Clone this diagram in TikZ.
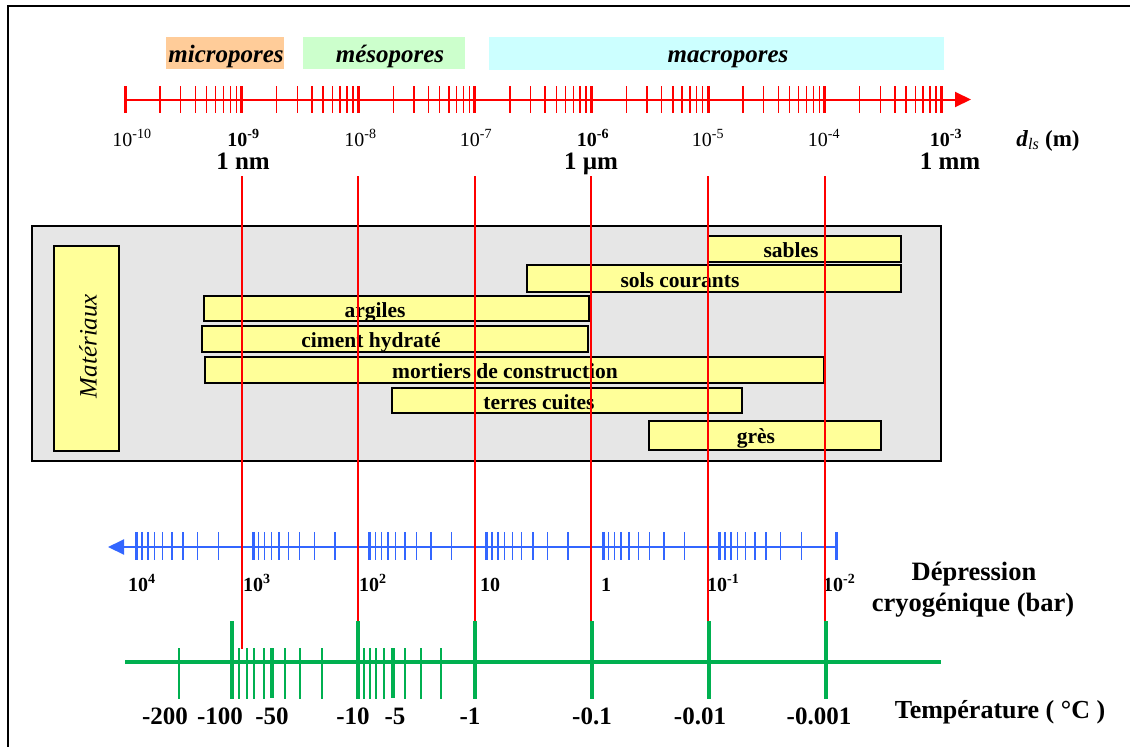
\documentclass[tikz,border=0pt]{standalone}
\usepackage{fontspec}
\setmainfont{Liberation Serif}
\usetikzlibrary{arrows.meta}
\definecolor{myred}{RGB}{255,0,0}
\definecolor{myblue}{RGB}{51,102,255}
\definecolor{mygreen}{RGB}{0,176,80}
\definecolor{panelgray}{RGB}{230,230,230}
\definecolor{baryellow}{RGB}{255,255,153}
\definecolor{orangebox}{RGB}{255,204,153}
\definecolor{greenbox}{RGB}{204,255,204}
\definecolor{cyanbox}{RGB}{204,255,255}
\newcommand{\myfs}[1]{\fontsize{#1}{#1}\selectfont}
\begin{document}
\begin{tikzpicture}[x=1pt,y=-1pt,
  porebox/.style={inner sep=0pt, outer sep=0pt, draw=none},
  poretext/.style={font={\myfs{25}\bfseries\itshape}, inner sep=0pt, anchor=base},
  redaxis/.style={draw=myred, line width=2pt},
  redminor/.style={draw=myred, line width=1.4pt},
  redmajor/.style={draw=myred, line width=3pt},
  redline/.style={draw=myred, line width=2pt},
  toplabel/.style={font={\myfs{20}}, inner sep=0pt, anchor=base},
  toplabelb/.style={font={\myfs{20}\bfseries}, inner sep=0pt, anchor=base},
  unitlabel/.style={font={\myfs{25}\bfseries}, inner sep=0pt, anchor=base},
  graypanel/.style={draw=black, line width=2pt, fill=panelgray, inner sep=0pt},
  matbar/.style={draw=black, line width=2pt, fill=baryellow, inner sep=0pt},
  bartext/.style={font={\myfs{21.5}\bfseries}, inner sep=0pt, anchor=base},
  blueaxis/.style={draw=myblue, line width=2pt},
  blueminor/.style={draw=myblue, line width=1.4pt},
  bluemajor/.style={draw=myblue, line width=3pt},
  bluelabel/.style={font={\myfs{20}\bfseries}, inner sep=0pt, anchor=base west},
  sidetitle/.style={font={\myfs{26.5}\bfseries}, inner sep=0pt, anchor=base},
  greenaxis/.style={draw=mygreen, line width=4pt},
  greenmajor/.style={draw=mygreen, line width=4pt},
  greenminor/.style={draw=mygreen, line width=2pt},
  greenlabel/.style={font={\myfs{25}\bfseries}, inner sep=0pt, anchor=base}
]
\useasboundingbox (0,0) rectangle (1130,747);
% frame (cropped)
\coordinate (fA) at (8,747);
\coordinate (fB) at (8,6);
\coordinate (fC) at (1130,6);
\draw[line width=2pt] (fA) -- (fB) -- (fC);

% pore classes
\node[porebox, fill=orangebox, minimum width=118pt, minimum height=32pt] (micro) at (225,53) {};
\node[porebox, fill=greenbox, minimum width=162pt, minimum height=32pt] (meso) at (384,53) {};
\node[porebox, fill=cyanbox, minimum width=455pt, minimum height=33pt] (macro) at (716.5,53) {};
\node[poretext] (microt) at (226,62) {micropores};
\node[poretext] (mesot) at (390,62) {mésopores};
\node[poretext] (macrot) at (728,62) {macropores};

% red axis
\coordinate (raS) at (125,99.5);
\coordinate (raE) at (971,99.5);
\draw[redaxis, -{Triangle[length=16pt,width=15pt]}] (raS) -- (raE);
\foreach \d in {0,...,6} {
  \foreach \m in {2,...,9} {
    \draw[redminor] ({125+116.6*\d+116.6*log10(\m)},86) -- ++(0,27);
  }
}
\foreach \d in {0,...,7} {
  \draw[redmajor] ({125+116.6*\d},86) -- ++(0,27);
}
\node[toplabel]  (e10) at (132,146) {10\textsuperscript{-10}};
\node[toplabelb] (e9) at (243.5,146) {10\textsuperscript{-9}};
\node[toplabel]  (e8) at (360.5,146) {10\textsuperscript{-8}};
\node[toplabel]  (e7) at (476,146) {10\textsuperscript{-7}};
\node[toplabelb] (e6) at (593,146) {10\textsuperscript{-6}};
\node[toplabel]  (e5) at (708,146) {10\textsuperscript{-5}};
\node[toplabel]  (e4) at (824,146) {10\textsuperscript{-4}};
\node[toplabelb] (e3) at (946,146) {10\textsuperscript{-3}};
\node[unitlabel] (nm) at (243,169) {1 nm};
\node[unitlabel] (um) at (591,169) {1 µm};
\node[unitlabel] (mm) at (950,169) {1 mm};
\node[font={\myfs{23}}, inner sep=0pt, anchor=base] (dls) at (1048,146)
  {\textbf{\textit{d}}\textsubscript{\textit{ls}}\textbf{ (m)}};

% materials panel
\node[graypanel, minimum width=909pt, minimum height=235pt] (panel) at (486.5,343.5) {};
\node[matbar, minimum width=65pt, minimum height=205pt] (mat) at (86.5,348.5) {};
\node[font={\myfs{25}\itshape}, rotate=90, inner sep=0pt] (matt) at (88,346) {Matériaux};

\node[matbar, minimum width=193pt, minimum height=26pt] (sables) at (804.5,249) {};
\node[matbar, minimum width=374pt, minimum height=27pt] (sols) at (714,278.5) {};
\node[matbar, minimum width=385pt, minimum height=25pt] (argiles) at (396.5,308.5) {};
\node[matbar, minimum width=386pt, minimum height=26pt] (ciment) at (395,339) {};
\node[matbar, minimum width=619pt, minimum height=26pt] (mortiers) at (514.5,370) {};
\node[matbar, minimum width=350pt, minimum height=25pt] (terres) at (567,400.5) {};
\node[matbar, minimum width=232pt, minimum height=29pt] (gres) at (765,435.5) {};
\node[bartext] (sablest) at (791,257) {sables};
\node[bartext] (solst) at (680,287.5) {sols courants};
\node[bartext] (argilest) at (375,317) {argiles};
\node[bartext] (cimentt) at (371,347.5) {ciment hydraté};
\node[bartext] (mortierst) at (505,378.5) {mortiers de construction};
\node[bartext] (terrest) at (539,409) {terres cuites};
\node[bartext] (grest) at (756,443) {grès};

% blue axis
\coordinate (baS) at (836.3,547);
\coordinate (baE) at (108,547);
\draw[blueaxis, -{Triangle[length=16pt,width=15pt]}] (baS) -- (baE);
\foreach \d in {0,...,5} {
  \foreach \m in {2,...,9} {
    \draw[blueminor] ({136.7+116.6*(\d+1-log10(\m))},532) -- ++(0,28);
  }
}
\foreach \d in {0,...,6} {
  \draw[bluemajor] ({136.7+116.6*\d},532) -- ++(0,28);
}
\node[bluelabel] (p4) at (128,591) {10\textsuperscript{4}};
\node[bluelabel] (p3) at (243,591) {10\textsuperscript{3}};
\node[bluelabel] (p2) at (359,591) {10\textsuperscript{2}};
\node[bluelabel] (p1) at (480,591) {10};
\node[bluelabel] (p0) at (601,591) {1};
\node[bluelabel] (pm1) at (707,591) {10\textsuperscript{-1}};
\node[bluelabel] (pm2) at (823,591) {10\textsuperscript{-2}};
\node[sidetitle] (dep1) at (974,580) {Dépression};
\node[sidetitle] (dep2) at (973,611) {cryogénique (bar)};

% red vertical guides
\foreach \k in {1,...,6} {
  \coordinate (rt\k) at ({125+116.6*\k},176);
  \coordinate (rb\k) at ({125+116.6*\k},649);
  \draw[redline] (rt\k) -- (rb\k);
}

% green axis
\coordinate (gaS) at (125,662);
\coordinate (gaE) at (941,662);
\draw[greenaxis] (gaS) -- (gaE);
\foreach \x in {231.7,358.3,475,591.5,709,825.5} {
  \draw[greenmajor] (\x,621) -- (\x,699);
}
\foreach \x in {179.3,239.3,246.7,254,264,285,300,321.7,364.3,370,376,384.3,405,420.7,440.7} {
  \draw[greenminor] (\x,648) -- (\x,699);
}
\foreach \x in {272.3,392.7} {
  \draw[greenmajor] (\x,648) -- (\x,698);
}
\node[greenlabel] (t200) at (165,724) {-200};
\node[greenlabel] (t100) at (220,724) {-100};
\node[greenlabel] (t50) at (272,724) {-50};
\node[greenlabel] (t10) at (353,724) {-10};
\node[greenlabel] (t5) at (395,724) {-5};
\node[greenlabel] (t1) at (470,724) {-1};
\node[greenlabel] (t01) at (592,724) {-0.1};
\node[greenlabel] (t001) at (700,724) {-0.01};
\node[greenlabel] (t0001) at (819,724) {-0.001};
\node[font={\myfs{26}\bfseries}, inner sep=0pt, anchor=base] (temp) at (1000,718) {Température ( °C )};
\end{tikzpicture}
\end{document}
